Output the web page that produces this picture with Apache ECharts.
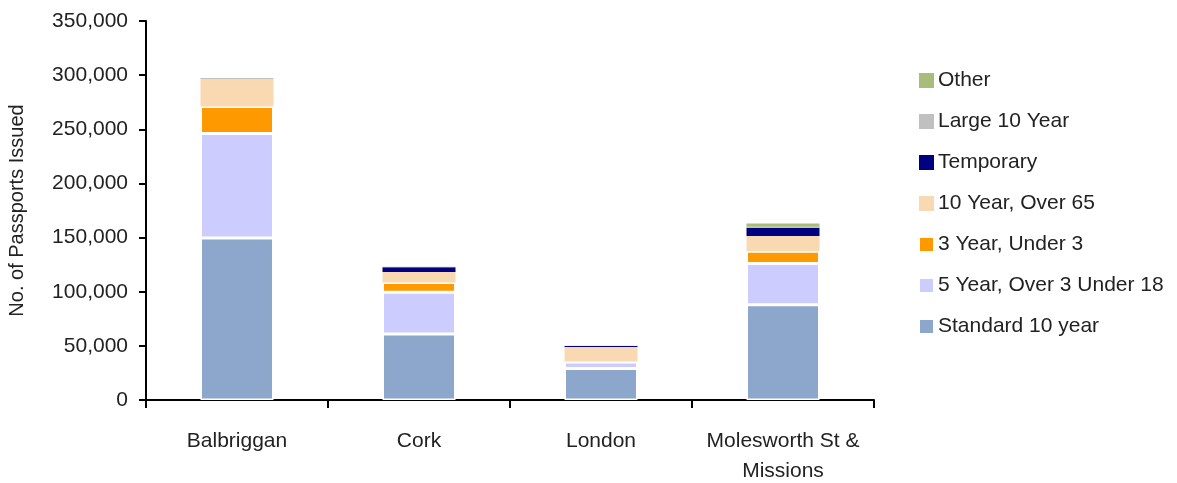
<!DOCTYPE html>
<html>
<head>
<meta charset="utf-8">
<script src="https://cdn.jsdelivr.net/npm/echarts@6/dist/echarts.min.js"></script>
<style>
  html, body { margin: 0; padding: 0; background: #fff; }
  #chart { width: 1177px; height: 483px; }
</style>
</head>
<body>
<div id="chart"></div>
<script>
// Passports issued by office, broken down by passport type
const categories = ['Balbriggan', 'Cork', 'London', 'Molesworth St &\nMissions'];

const standard10 = [149500, 61000, 29000, 88000];
const fiveYear   = [96500, 38400, 6000, 38000];
const threeYear  = [25000, 9000, 500, 11300];
const over65     = [25400, 9800, 13400, 14100];
const temporary  = [0, 4300, 1000, 7700];
const large10    = [1000, 500, 300, 800];
const other      = [0, 0, 0, 3000];

const yTicks = [0, 50000, 100000, 150000, 200000, 250000, 300000, 350000];

const FONT = '"Liberation Sans", Arial, sans-serif';
const TEXT = '#222';

const seriesDefs = [
  { name: 'Standard 10 year', data: standard10, color: '#8ca6cc', border: true },
  { name: '5 Year, Over 3 Under 18', data: fiveYear, color: '#ccccff', border: true },
  { name: '3 Year, Under 3', data: threeYear, color: '#ff9900', border: true },
  { name: '10 Year, Over 65', data: over65, color: '#f9d9b2', border: false },
  { name: 'Temporary', data: temporary, color: '#000080', border: false },
  { name: 'Large 10 Year', data: large10, color: '#c0c0c0', border: false },
  { name: 'Other', data: other, color: '#a9bc7a', border: false }
];

const chart = echarts.init(document.getElementById('chart'), null, { renderer: 'canvas' });

chart.setOption({
  animation: false,
  backgroundColor: '#fff',
  textStyle: { fontFamily: FONT },
  grid: { left: 146, right: 303, top: 21, bottom: 83, containLabel: false, outerBoundsMode: 'none' },
  legend: {
    orient: 'vertical',
    left: 913,
    top: 65,
    itemWidth: 15,
    itemHeight: 15,
    itemGap: 20,
    icon: 'rect',
    data: seriesDefs.map(s => s.name).reverse(),
    textStyle: { fontFamily: FONT, fontSize: 21, color: TEXT, padding: [0, 0, 0, -1] }
  },
  xAxis: {
    type: 'category',
    data: categories,
    axisLine: { lineStyle: { color: '#000', width: 2 } },
    axisTick: { show: true, length: 8, interval: 0, alignWithLabel: false, lineStyle: { color: '#000', width: 2 } },
    axisLabel: { fontFamily: FONT, fontSize: 21, color: TEXT, margin: 26, lineHeight: 30, interval: 0, hideOverlap: false },
    splitLine: { show: false }
  },
  yAxis: {
    type: 'value',
    min: yTicks[0],
    max: yTicks[yTicks.length - 1],
    interval: yTicks[1] - yTicks[0],
    name: 'No. of Passports Issued',
    nameLocation: 'middle',
    nameGap: 119,
    nameRotate: 90,
    nameTextStyle: { fontFamily: FONT, fontSize: 20, color: TEXT },
    axisLine: { show: true, lineStyle: { color: '#000', width: 2 } },
    axisTick: { show: true, length: 7, inside: false, lineStyle: { color: '#000', width: 2 } },
    axisLabel: {
      fontFamily: FONT, fontSize: 21, color: TEXT, margin: 18,
      formatter: v => v.toLocaleString('en-US')
    },
    splitLine: { show: false }
  },
  series: seriesDefs.map(s => ({
    name: s.name,
    type: 'bar',
    stack: 'total',
    barWidth: 73,
    data: s.data,
    itemStyle: {
      color: s.color,
      borderColor: '#fff',
      borderWidth: s.border ? 1.5 : 0
    },
    emphasis: { disabled: true }
  }))
});
</script>
</body>
</html>
